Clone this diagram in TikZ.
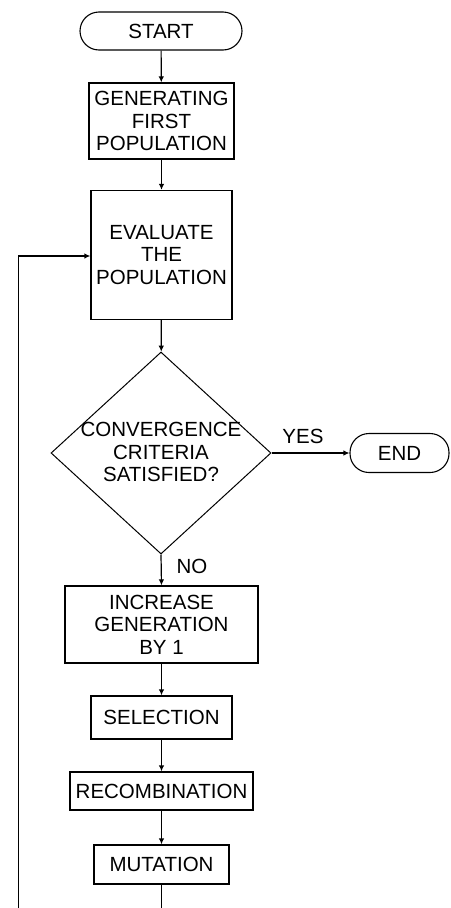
\documentclass[tikz,border=0pt]{standalone}
\usepackage{fontspec}
\setmainfont{Liberation Sans}
\usetikzlibrary{shapes.geometric,arrows.meta}
\begin{document}
\begin{tikzpicture}[x=1pt,y=-1pt,
  every node/.style={font=\fontsize{20.5}{22.5}\selectfont, align=center},
  procbox/.style={draw, line width=1.2pt, inner sep=0pt},
  termbox/.style={draw, line width=1.1pt, rounded corners=19pt, inner sep=0pt},
  decbox/.style={draw, diamond, line width=1pt, inner sep=0pt},
  flow/.style={line width=1.2pt, -{Latex[length=6pt,width=5.5pt]}},
  plain/.style={line width=1.2pt},
  lbl/.style={inner sep=0pt}
]
\useasboundingbox (0,0) rectangle (450,908);
\node[termbox, minimum width=162pt, minimum height=38pt] (start) at (161,31) {START};
\node[procbox, minimum width=145pt, minimum height=76pt] (gen) at (161.5,121) {GENERATING\\FIRST\\POPULATION};
\node[procbox, minimum width=141pt, minimum height=129pt] (eval) at (161.5,255) {EVALUATE\\THE\\POPULATION};
\node[decbox, minimum width=220pt, minimum height=202pt] (dec) at (161,453) {};
\node[lbl] (dectext) at (161,452) {CONVERGENCE\\CRITERIA\\SATISFIED?};
\node[termbox, minimum width=99pt, minimum height=39pt] (end) at (399.5,453) {END};
\node[procbox, minimum width=193pt, minimum height=77pt] (inc) at (161.5,624.5) {INCREASE\\GENERATION\\BY 1};
\node[procbox, minimum width=141pt, minimum height=43pt] (sel) at (161.5,717.5) {SELECTION};
\node[procbox, minimum width=183pt, minimum height=38pt] (rec) at (161.5,791) {RECOMBINATION};
\node[procbox, minimum width=135pt, minimum height=39pt] (mut) at (161.5,864.5) {MUTATION};
\node[lbl] (yes) at (303,436) {YES};
\node[lbl] (no) at (192,566) {NO};
\coordinate (mutend) at (161.5,908);
\coordinate (loopstart) at (18.5,908);
\coordinate (loopcorner) at (18.5,256);
\draw[flow] (start) -- (gen);
\draw[flow] (gen) -- (eval);
\draw[flow] (eval) -- (dec);
\draw[flow] (dec.east) -- (end.west);
\draw[flow] (dec.south) -- (inc.north);
\draw[flow] (inc) -- (sel);
\draw[flow] (sel) -- (rec);
\draw[flow] (rec) -- (mut);
\draw[plain] (mut) -- (mutend);
\draw[flow] (loopstart) -- (loopcorner) -- (loopcorner -| eval.west);
\end{tikzpicture}
\end{document}
